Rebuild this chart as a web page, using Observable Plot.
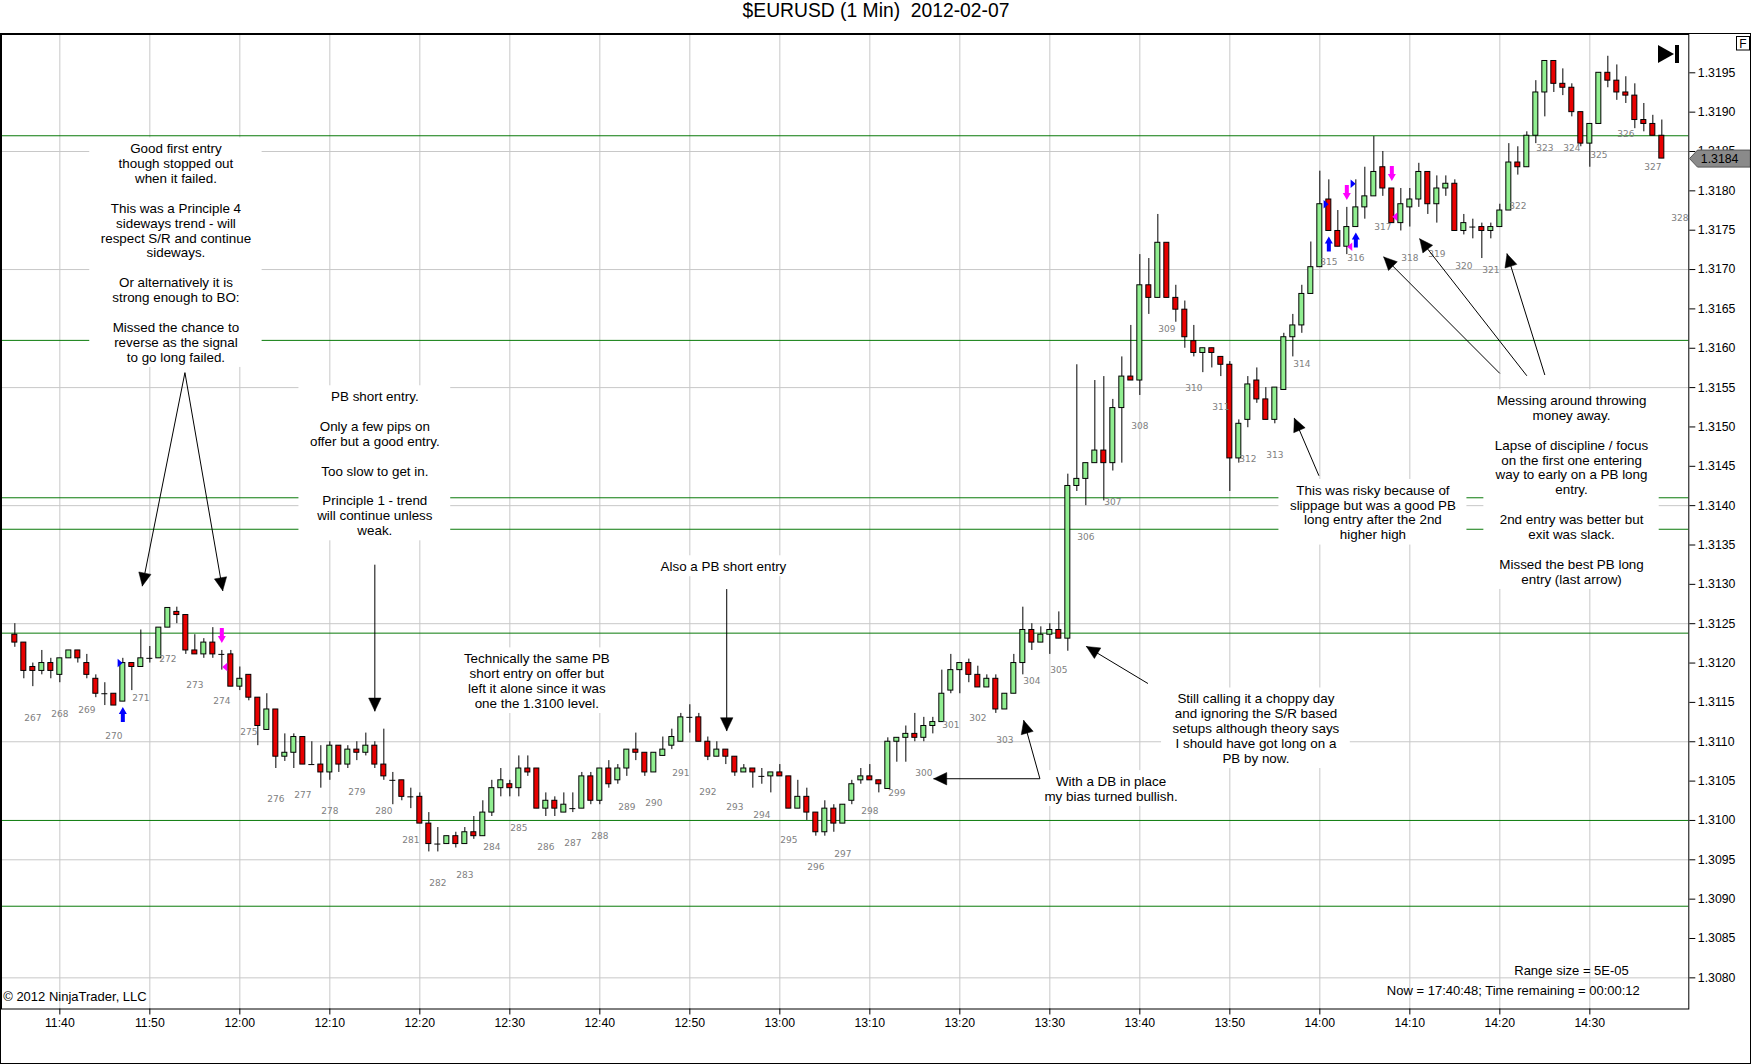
<!DOCTYPE html>
<html><head><meta charset="utf-8">
<script src="https://cdn.jsdelivr.net/npm/d3@7"></script>
<script src="https://cdn.jsdelivr.net/npm/@observablehq/plot@0.6"></script>
<style>
html,body{margin:0;padding:0;background:#fff;overflow:hidden;}
#title{height:33px;line-height:31px;text-align:center;font:19.3px "Liberation Sans",Arial,sans-serif;color:#000;white-space:pre;}
#chart svg{display:block;}
</style></head><body>
<div id="title">$EURUSD (1 Min)  2012-02-07</div>
<div id="chart"></div>
<script>
// ---------------- data ----------------
const firstBar = "11:35";
const opens = [
1.31236,1.31226,1.31195,1.31190,1.31200,1.31185,1.31206,1.31216,1.31200,1.31180,
1.31161,1.31161,1.31151,1.31200,1.31195,1.31206,1.31206,1.31245,1.31265,1.31261,
1.31216,1.31211,1.31226,1.31211,1.31211,1.31170,1.31185,1.31156,1.31115,1.31141,
1.31081,1.31086,1.31106,1.31071,1.31071,1.31061,1.31095,1.31071,1.31090,1.31086,
1.31095,1.31071,1.31051,1.31051,1.31030,1.31030,1.30996,1.30970,1.30970,1.30980,
1.30970,1.30985,1.30980,1.31010,1.31041,1.31046,1.31041,1.31066,1.31066,1.31015,
1.31025,1.31010,1.31015,1.31015,1.31056,1.31025,1.31066,1.31051,1.31066,1.31090,
1.31086,1.31061,1.31082,1.31095,1.31100,1.31131,1.31131,1.31100,1.31081,1.31090,
1.31081,1.31061,1.31066,1.31056,1.31056,1.31061,1.31056,1.31015,1.31030,1.31010,
1.30985,1.31015,1.30996,1.31025,1.31051,1.31056,1.31051,1.31040,1.31100,1.31105,
1.31110,1.31105,1.31120,1.31125,1.31165,1.31191,1.31200,1.31185,1.31169,1.31180,
1.31141,1.31161,1.31200,1.31242,1.31226,1.31236,1.31242,1.31231,1.31425,1.31434,
1.31454,1.31470,1.31454,1.31524,1.31564,1.31559,1.31680,1.31664,1.31734,1.31664,
1.31649,1.31609,1.31594,1.31600,1.31589,1.31579,1.31460,1.31509,1.31559,1.31535,
1.31509,1.31547,1.31614,1.31629,1.31669,1.31703,1.31789,1.31749,1.31729,1.31754,
1.31779,1.31793,1.31830,1.31803,1.31759,1.31779,1.31789,1.31824,1.31783,1.31803,
1.31809,1.31749,1.31754,1.31754,1.31749,1.31754,1.31775,1.31836,1.31830,1.31870,
1.31925,1.31965,1.31936,1.31931,1.31900,1.31860,1.31885,1.31950,1.31940,1.31925,
1.31921,1.31890,1.31885,1.31870];
const highs = [
1.31250,1.31226,1.31200,1.31216,1.31206,1.31206,1.31216,1.31216,1.31211,1.31185,
1.31175,1.31161,1.31206,1.31200,1.31242,1.31221,1.31245,1.31270,1.31271,1.31261,
1.31236,1.31231,1.31245,1.31216,1.31216,1.31195,1.31185,1.31156,1.31161,1.31141,
1.31110,1.31110,1.31106,1.31100,1.31095,1.31100,1.31095,1.31095,1.31100,1.31111,
1.31100,1.31116,1.31061,1.31051,1.31041,1.31035,1.31010,1.30991,1.30980,1.30985,
1.30991,1.31005,1.31025,1.31051,1.31066,1.31051,1.31082,1.31082,1.31066,1.31035,
1.31030,1.31035,1.31035,1.31061,1.31061,1.31066,1.31076,1.31071,1.31090,1.31111,
1.31086,1.31086,1.31106,1.31116,1.31136,1.31147,1.31136,1.31106,1.31100,1.31090,
1.31081,1.31071,1.31066,1.31066,1.31061,1.31071,1.31056,1.31051,1.31041,1.31010,
1.31025,1.31020,1.31020,1.31051,1.31066,1.31071,1.31051,1.31105,1.31105,1.31120,
1.31136,1.31131,1.31131,1.31191,1.31211,1.31200,1.31205,1.31196,1.31185,1.31185,
1.31161,1.31211,1.31271,1.31250,1.31246,1.31250,1.31265,1.31440,1.31579,1.31454,
1.31559,1.31564,1.31535,1.31589,1.31629,1.31719,1.31714,1.31770,1.31734,1.31680,
1.31660,1.31629,1.31600,1.31600,1.31589,1.31583,1.31509,1.31564,1.31575,1.31550,
1.31550,1.31619,1.31643,1.31680,1.31735,1.31825,1.31814,1.31775,1.31779,1.31814,
1.31830,1.31869,1.31850,1.31803,1.31803,1.31803,1.31835,1.31824,1.31819,1.31819,
1.31814,1.31770,1.31764,1.31759,1.31759,1.31783,1.31860,1.31856,1.31875,1.31940,
1.31965,1.31965,1.31955,1.31936,1.31900,1.31885,1.31950,1.31971,1.31960,1.31945,
1.31936,1.31911,1.31896,1.31890];
const lows = [
1.31220,1.31180,1.31170,1.31185,1.31180,1.31175,1.31206,1.31200,1.31180,1.31156,
1.31146,1.31146,1.31151,1.31165,1.31195,1.31200,1.31206,1.31245,1.31250,1.31211,
1.31211,1.31206,1.31206,1.31191,1.31170,1.31165,1.31152,1.31095,1.31115,1.31066,
1.31075,1.31066,1.31071,1.31071,1.31041,1.31051,1.31061,1.31066,1.31076,1.31082,
1.31066,1.31051,1.31020,1.31025,1.31015,1.30996,1.30960,1.30960,1.30970,1.30965,
1.30970,1.30976,1.30980,1.31005,1.31030,1.31030,1.31030,1.31056,1.31015,1.31005,
1.31005,1.31010,1.31010,1.31015,1.31020,1.31020,1.31041,1.31046,1.31056,1.31076,
1.31056,1.31061,1.31082,1.31090,1.31100,1.31111,1.31100,1.31076,1.31081,1.31071,
1.31056,1.31061,1.31041,1.31046,1.31035,1.31056,1.31015,1.31015,1.31000,1.30980,
1.30980,1.30985,1.30996,1.31020,1.31046,1.31051,1.31035,1.31040,1.31074,1.31074,
1.31100,1.31100,1.31110,1.31125,1.31161,1.31161,1.31175,1.31169,1.31169,1.31136,
1.31141,1.31161,1.31185,1.31216,1.31226,1.31211,1.31231,1.31215,1.31418,1.31400,
1.31454,1.31406,1.31444,1.31454,1.31559,1.31540,1.31643,1.31664,1.31664,1.31633,
1.31600,1.31589,1.31569,1.31575,1.31564,1.31418,1.31454,1.31499,1.31530,1.31509,
1.31504,1.31547,1.31589,1.31619,1.31669,1.31703,1.31749,1.31729,1.31719,1.31754,
1.31764,1.31793,1.31793,1.31759,1.31749,1.31754,1.31779,1.31770,1.31759,1.31793,
1.31749,1.31744,1.31739,1.31714,1.31739,1.31754,1.31775,1.31820,1.31830,1.31860,
1.31894,1.31925,1.31921,1.31894,1.31856,1.31830,1.31885,1.31931,1.31915,1.31911,
1.31879,1.31875,1.31870,1.31841];
const closes = [
1.31226,1.31190,1.31190,1.31200,1.31190,1.31206,1.31216,1.31206,1.31185,1.31161,
1.31161,1.31146,1.31200,1.31195,1.31206,1.31206,1.31245,1.31270,1.31261,1.31216,
1.31211,1.31226,1.31211,1.31211,1.31170,1.31180,1.31156,1.31120,1.31141,1.31081,
1.31086,1.31106,1.31071,1.31071,1.31061,1.31095,1.31071,1.31090,1.31086,1.31095,
1.31071,1.31056,1.31051,1.31030,1.31030,1.30996,1.30970,1.30970,1.30980,1.30970,
1.30985,1.30980,1.31010,1.31041,1.31051,1.31041,1.31066,1.31061,1.31015,1.31025,
1.31015,1.31020,1.31015,1.31056,1.31025,1.31066,1.31046,1.31066,1.31090,1.31086,
1.31061,1.31086,1.31090,1.31106,1.31131,1.31131,1.31100,1.31081,1.31090,1.31081,
1.31061,1.31066,1.31061,1.31056,1.31061,1.31056,1.31015,1.31030,1.31010,1.30985,
1.31015,1.30996,1.31020,1.31046,1.31056,1.31051,1.31046,1.31100,1.31105,1.31110,
1.31105,1.31120,1.31125,1.31161,1.31191,1.31200,1.31185,1.31169,1.31180,1.31141,
1.31161,1.31200,1.31242,1.31226,1.31236,1.31242,1.31231,1.31425,1.31434,1.31454,
1.31470,1.31454,1.31524,1.31564,1.31559,1.31680,1.31664,1.31734,1.31664,1.31649,
1.31614,1.31594,1.31600,1.31594,1.31579,1.31460,1.31504,1.31554,1.31535,1.31509,
1.31550,1.31614,1.31629,1.31669,1.31703,1.31783,1.31749,1.31729,1.31754,1.31779,
1.31793,1.31824,1.31803,1.31759,1.31783,1.31789,1.31824,1.31783,1.31803,1.31809,
1.31749,1.31759,1.31754,1.31749,1.31754,1.31775,1.31836,1.31830,1.31870,1.31925,
1.31965,1.31936,1.31931,1.31900,1.31860,1.31885,1.31950,1.31940,1.31925,1.31921,
1.31890,1.31885,1.31870,1.31841];

// bar counter labels (every third bar, starting at the third bar)
const counterNumbers = [267,268,269,270,271,272,273,274,275,276,277,278,279,280,281,282,283,284,285,286,
287,288,289,290,291,292,293,294,295,296,297,298,299,300,301,302,303,304,305,306,307,308,309,310,311,312,
313,314,315,316,317,318,319,320,321,322,323,324,325,326,327,328];
const pendingCounterAnchor = 1.31805; // counter 328 belongs to the still-forming bar

// support / resistance lines and grid
const srLevels = [1.3187, 1.3161, 1.3141, 1.3137, 1.31238, 1.3100, 1.30891];
const gridLevels = [1.3080, 1.3095, 1.3110, 1.3125, 1.3140, 1.3155, 1.3170, 1.3185];
const yTickLabels = ["1.3080","1.3085","1.3090","1.3095","1.3100","1.3105","1.3110","1.3115","1.3120","1.3125",
"1.3130","1.3135","1.3140","1.3145","1.3150","1.3155","1.3160","1.3165","1.3170","1.3175","1.3180","1.3185","1.3190","1.3195"];
const xTickLabels = ["11:40","11:50","12:00","12:10","12:20","12:30","12:40","12:50","13:00","13:10",
"13:20","13:30","13:40","13:50","14:00","14:10","14:20","14:30"];

// trade markers
const entryBars = [12, 146, 149];
const entryPrices = [1.31200, 1.31783, 1.31809];
const exitBars = [23, 148, 153];
const exitPrices = [1.31195, 1.31729, 1.31767];

// annotations
const notes = [
 {time:"11:52:54", price:1.31854, lines:["Good first entry","though stopped out","when it failed.","","This was a Principle 4","sideways trend - will","respect S/R and continue","sideways.","","Or alternatively it is","strong enough to BO:","","Missed the chance to","reverse as the signal","to go long failed."]},
 {time:"12:15:00", price:1.31539, lines:["PB short entry.","","Only a few pips on","offer but a good entry.","","Too slow to get in.","","Principle 1 - trend","will continue unless","weak."]},
 {time:"12:53:44", price:1.31323, lines:["Also a PB short entry"]},
 {time:"12:33:00", price:1.31206, lines:["Technically the same PB","short entry on offer but","left it alone since it was","one the 1.3100 level."]},
 {time:"13:36:48", price:1.31050, lines:["With a DB in place","my bias turned bullish."]},
 {time:"13:52:54", price:1.31155, lines:["Still calling it a choppy day","and ignoring the S/R based","setups although theory says","I should have got long on a","PB by now."]},
 {time:"14:05:54", price:1.31420, lines:["This was risky because of","slippage but was a good PB","long entry after the 2nd","higher high"]},
 {time:"14:27:58", price:1.31534, lines:["Messing around throwing","money away.","","Lapse of discipline / focus","on the first one entering","way to early on a PB long","entry.","","2nd entry was better but","exit was slack.","","Missed the best PB long","entry (last arrow)"]}
];
const pointers = [
 {from:["11:53:54",1.31569], to:["11:49:10",1.31298]},
 {from:["11:53:54",1.31569], to:["11:58:06",1.31292]},
 {from:["12:15:00",1.31325], to:["12:15:00",1.31139]},
 {from:["12:54:06",1.31294], to:["12:54:06",1.31114]},
 {from:["13:28:54",1.31053], to:["13:17:06",1.31053]},
 {from:["13:28:54",1.31053], to:["13:27:06",1.31127]},
 {from:["13:40:54",1.31174], to:["13:34:04",1.31221]},
 {from:["13:59:54",1.31438], to:["13:57:10",1.31511]},
 {from:["14:20:00",1.31568], to:["14:07:06",1.31716]},
 {from:["14:23:00",1.31565], to:["14:11:06",1.31739]},
 {from:["14:25:00",1.31566], to:["14:20:48",1.31720]}
];

// ---------------- build ----------------
const toTime = s => { const [h,m,sec=0] = s.split(":").map(Number); return new Date(Date.UTC(2012,1,7,h,m,sec)); };
const MIN = 60000;
const t0 = toTime(firstBar);
const barTime = i => new Date(+t0 + i*MIN);
const bars = opens.map((o,i)=>({t:barTime(i), o, h:highs[i], l:lows[i], c:closes[i]}));

const W = 1752, H = 1031;
const mL = 1, mR = 63.7, mT = 1, mB = 55.5;
const pxPerBar = 9, firstBarPx = 14.33;
const xDomain = [barTime((mL - firstBarPx)/pxPerBar), barTime((W - mR - firstBarPx)/pxPerBar)];
const priceAt = y => 1.3195 - (y - 39.3)/78700;
const yDomain = [priceAt(H - mB), priceAt(mT)];
const xs = d3.scaleUtc().domain(xDomain).range([mL, W - mR]);
const ys = d3.scaleLinear().domain(yDomain).range([H - mB, mT]);

const GREEN = "#90ee90", RED = "#e80000";
const FONT = "'Liberation Sans', Arial, sans-serif";
const noteSize = 13.4, noteStep = 14.9;

const counters = counterNumbers.map((n,k)=>{
  const i = 2 + 3*k;
  return {t: barTime(i), p: i < bars.length ? lows[i] : pendingCounterAnchor, text: String(n)};
});

const entries = entryBars.map((b,k)=>({t: barTime(b), p: entryPrices[k], low: lows[b]}));
const exits = exitBars.map((b,k)=>({t: barTime(b), p: exitPrices[k], high: highs[b]}));

// annotation boxes & text
const ctx = document.createElement("canvas").getContext("2d");
ctx.font = `${noteSize}px 'Liberation Sans'`;
const padX = 11, padY = 3;
const noteBoxes = [], noteTexts = [];
notes.forEach(n=>{
  const cx = xs(toTime(n.time)), cy = ys(n.price);
  const w = d3.max(n.lines, l => ctx.measureText(l).width);
  const nl = n.lines.length;
  noteBoxes.push({x1: xs.invert(cx - w/2 - padX), x2: xs.invert(cx + w/2 + padX),
    y1: ys.invert(cy - noteStep/2 - padY), y2: ys.invert(cy + (nl-1)*noteStep + noteStep/2 + padY)});
  noteTexts.push({t: toTime(n.time), p: ys.invert(cy + (nl-1)*noteStep/2), text: n.lines.join("\n")});
});

// pointer shafts & heads
const shafts = pointers.map(a=>({x1: toTime(a.from[0]), y1: a.from[1], x2: toTime(a.to[0]), y2: a.to[1]}));
const heads = [];
pointers.forEach((a,id)=>{
  const x1 = xs(toTime(a.from[0])), y1 = ys(a.from[1]), x2 = xs(toTime(a.to[0])), y2 = ys(a.to[1]);
  const L = Math.hypot(x2-x1, y2-y1), ux = (x2-x1)/L, uy = (y2-y1)/L;
  const hl = 13, hw = 6.2;
  const bx = x2 - ux*hl, by = y2 - uy*hl;
  [[x2,y2],[bx - uy*hw, by + ux*hw],[bx + uy*hw, by - ux*hw],[x2,y2]].forEach(([px,py])=>
    heads.push({id, t: xs.invert(px), p: ys.invert(py)}));
});

// custom symbols
const upArrow = {draw(c){c.moveTo(0,-7.5);c.lineTo(4,-0.5);c.lineTo(2,-0.5);c.lineTo(2,7.5);c.lineTo(-2,7.5);c.lineTo(-2,-0.5);c.lineTo(-4,-0.5);c.closePath();}};
const downArrow = {draw(c){c.moveTo(0,7.5);c.lineTo(4,0.5);c.lineTo(2,0.5);c.lineTo(2,-7.5);c.lineTo(-2,-7.5);c.lineTo(-2,0.5);c.lineTo(-4,0.5);c.closePath();}};
const rightTri = {draw(c){c.moveTo(-2.5,-4.2);c.lineTo(2.5,0);c.lineTo(-2.5,4.2);c.closePath();}};
const leftTri = {draw(c){c.moveTo(2.5,-4.2);c.lineTo(-2.5,0);c.lineTo(2.5,4.2);c.closePath();}};
const tagShape = {draw(c){c.moveTo(0.7,0);c.lineTo(8.7,-8.5);c.lineTo(61.5,-8.5);c.lineTo(61.5,8.5);c.lineTo(8.7,8.5);c.closePath();}};

const xTicks = xTickLabels.map(toTime);
const yTicks = yTickLabels.map(Number);
const hasAxisMarks = typeof Plot.axisY === "function";
const lastBar = bars[bars.length-1];

const marks = [
  Plot.ruleX(xTicks, {stroke:"#c8c8c8"}),
  Plot.ruleY(gridLevels, {stroke:"#c8c8c8"}),
  Plot.ruleY(srLevels, {stroke:"#0a7a0a"}),
  Plot.rect(noteBoxes, {x1:"x1", x2:"x2", y1:"y1", y2:"y2", fill:"white"}),
  Plot.ruleX(bars, {x:"t", y1:"l", y2:"h", stroke:"black", strokeWidth:1}),
  Plot.rect(bars.filter(d=>d.o!==d.c), {x1: d=>new Date(+d.t - MIN/2), x2: d=>new Date(+d.t + MIN/2), y1:"o", y2:"c",
    fill: d => d.c > d.o ? GREEN : RED, stroke:"black", strokeWidth:1, insetLeft:2, insetRight:2}),
  Plot.ruleY(bars.filter(d=>d.o===d.c), {y:"o", x1: d=>new Date(+d.t - 20000), x2: d=>new Date(+d.t + 20000), stroke:"black"}),
  Plot.text(counters, {x:"t", y:"p", text:"text", dy:31, fill:"#808080", fontSize:9, fontFamily:"DejaVu Sans"}),
  Plot.dot(entries, {x:"t", y:"low", dy:13, symbol: upArrow, fill:"#0000ff", stroke:"none"}),
  Plot.dot(entries, {x:"t", y:"p", dx:-2.7, symbol: rightTri, fill:"#0000ff", stroke:"none"}),
  Plot.dot(exits, {x:"t", y:"high", dy:-15, symbol: downArrow, fill:"#ff00ff", stroke:"none"}),
  Plot.dot(exits, {x:"t", y:"p", dx:2.9, symbol: leftTri, fill:"#ff00ff", stroke:"none"}),
  Plot.link(shafts, {x1:"x1", y1:"y1", x2:"x2", y2:"y2", stroke:"black", strokeWidth:1}),
  Plot.line(heads, {x:"t", y:"p", z:"id", fill:"black", stroke:"black", strokeWidth:0.5}),
  Plot.text(noteTexts, {x:"t", y:"p", text:"text", fontSize:noteSize, lineHeight: noteStep/noteSize, fill:"black", fontFamily: FONT}),
  Plot.text(["© 2012 NinjaTrader, LLC"], {frameAnchor:"bottom-left", dx:1.7, dy:-8.5, textAnchor:"start", fontSize:13, fill:"black"}),
  Plot.text(["Range size = 5E-05"], {frameAnchor:"bottom-right", dx:-60, dy:-34.5, textAnchor:"end", fontSize:13, fill:"black"}),
  Plot.text(["Now = 17:40:48; Time remaining = 00:00:12"], {frameAnchor:"bottom-right", dx:-49, dy:-14.2, textAnchor:"end", fontSize:13, fill:"black"}),
  Plot.frame({stroke:"black"})
];
if (hasAxisMarks) {
  marks.push(
    Plot.axisY(yTicks, {anchor:"right", tickSize:6, tickPadding:3, tickFormat: d=>d.toFixed(4), fontSize:12.3, label:null, fill:"black"}),
    Plot.axisX(xTicks, {anchor:"bottom", tickSize:6, tickPadding:3, tickFormat: d3.utcFormat("%H:%M"), fontSize:12.3, label:null, fill:"black"})
  );
}
marks.push(
  Plot.dot([lastBar], {x: () => xDomain[1], y:"c", symbol: tagShape, fill:"#8a8a8a", stroke:"#555", strokeWidth:1}),
  Plot.text([lastBar], {x: () => xDomain[1], y:"c", dx:12, text: d=>d.c.toFixed(4), textAnchor:"start", fontSize:12.3, fill:"black"})
);

const plot = Plot.plot({
  width: W, height: H,
  marginLeft: mL, marginRight: mR, marginTop: mT, marginBottom: mB,
  x: {type:"utc", domain: xDomain, ...(hasAxisMarks ? {axis:null} : {ticks: xTicks, tickFormat: d3.utcFormat("%H:%M"), tickSize:6, tickPadding:3, label:null})},
  y: {type:"linear", domain: yDomain, ...(hasAxisMarks ? {axis:null} : {axis:"right", ticks: yTicks, tickFormat: d=>d.toFixed(4), tickSize:6, tickPadding:3, label:null})},
  color: {type:"identity"},
  style: {fontFamily: FONT, fontSize:"12.3px", color:"black", background:"white"},
  marks
});
document.getElementById("chart").appendChild(plot);

// chart chrome (window frame, end-of-chart button, "F" box)
const svg = d3.select(plot);
svg.append("rect").attr("x",0.5).attr("y",0.5).attr("width",W-2).attr("height",H-1).attr("fill","none").attr("stroke","black");
svg.append("path").attr("d","M1658,12L1674,21L1658,30Z").attr("fill","black");
svg.append("rect").attr("x",1675).attr("y",12).attr("width",4).attr("height",18).attr("fill","black");
svg.append("rect").attr("x",1736.5).attr("y",3.5).attr("width",13).attr("height",13.5).attr("fill","white").attr("stroke","black");
svg.append("text").attr("x",1743).attr("y",14.5).attr("text-anchor","middle").attr("font-size",12).attr("font-family","Liberation Sans").text("F");
</script>
</body></html>
